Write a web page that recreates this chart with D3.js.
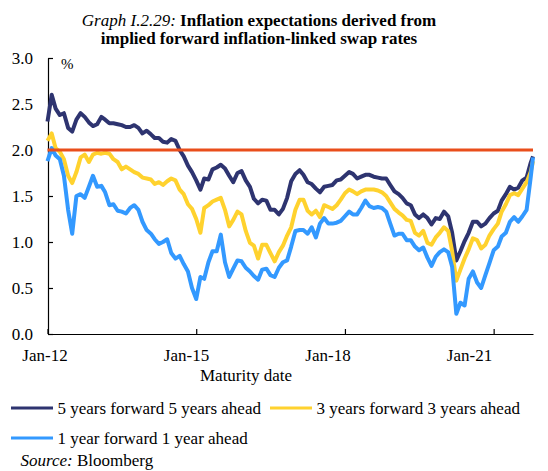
<!DOCTYPE html>
<html><head><meta charset="utf-8">
<script src="https://cdn.jsdelivr.net/npm/d3@7"></script>
<style>body{margin:0;background:#fff} svg{display:block}</style>
</head><body>
<svg id="chart" width="548" height="471"></svg>
<script>
// Monthly observation dates Jan-2012 .. Oct-2021 plus the last observation
const dates = d3.timeMonth.range(new Date(2012,0,1), new Date(2021,9,2)).concat([new Date(2021,9,18)]);

const fiveY = [
 2.31,2.60,2.45,2.38,2.40,2.24,2.20,2.33,2.40,2.36,2.30,2.26,
 2.28,2.36,2.33,2.29,2.29,2.28,2.27,2.25,2.25,2.27,2.24,2.18,
 2.21,2.17,2.13,2.13,2.09,2.08,2.12,2.10,2.00,1.93,1.83,1.76,
 1.67,1.57,1.69,1.68,1.79,1.81,1.84,1.80,1.72,1.65,1.75,1.77,
 1.67,1.60,1.47,1.42,1.46,1.45,1.35,1.35,1.30,1.36,1.48,1.66,
 1.74,1.78,1.73,1.65,1.63,1.58,1.54,1.60,1.61,1.62,1.67,1.68,
 1.72,1.76,1.74,1.69,1.71,1.73,1.73,1.71,1.70,1.69,1.69,1.62,
 1.55,1.52,1.48,1.42,1.40,1.30,1.26,1.30,1.26,1.19,1.26,1.25,
 1.33,1.28,1.10,0.80,0.90,1.01,1.10,1.22,1.22,1.17,1.20,1.26,
 1.31,1.34,1.45,1.52,1.60,1.57,1.59,1.67,1.70,1.86,
 1.93];
const threeY = [
 2.10,2.18,2.02,1.98,1.90,1.72,1.64,1.76,1.92,1.95,1.87,1.95,
 1.97,1.96,1.97,1.96,1.90,1.87,1.79,1.82,1.79,1.76,1.74,1.70,
 1.69,1.68,1.63,1.65,1.62,1.66,1.69,1.67,1.57,1.52,1.41,1.36,
 1.25,1.10,1.37,1.40,1.44,1.46,1.48,1.35,1.17,1.24,1.33,1.30,
 1.12,0.99,0.96,0.82,0.97,0.97,0.88,0.79,0.89,0.96,1.07,1.16,
 1.35,1.46,1.46,1.34,1.30,1.34,1.27,1.40,1.38,1.36,1.40,1.46,
 1.53,1.57,1.55,1.52,1.55,1.57,1.57,1.57,1.56,1.54,1.50,1.43,
 1.36,1.32,1.29,1.24,1.23,1.10,1.07,1.12,0.99,0.97,1.05,1.10,
 1.16,1.12,0.90,0.58,0.70,0.82,0.92,1.04,1.02,0.93,0.97,1.07,
 1.14,1.20,1.33,1.41,1.51,1.53,1.51,1.58,1.65,1.76,
 1.88];
const oneY = [
 1.88,2.02,1.94,1.90,1.72,1.35,1.09,1.50,1.52,1.48,1.60,1.72,
 1.60,1.61,1.54,1.40,1.41,1.34,1.33,1.31,1.37,1.40,1.35,1.22,
 1.13,1.09,1.03,0.98,1.00,1.03,0.88,0.82,0.85,0.76,0.68,0.50,
 0.38,0.62,0.60,0.78,0.90,0.90,1.08,0.78,0.62,0.71,0.80,0.79,
 0.72,0.68,0.63,0.59,0.70,0.71,0.64,0.62,0.72,0.78,0.80,0.95,
 1.12,1.13,1.13,1.09,1.16,1.05,1.20,1.26,1.20,1.20,1.21,1.23,
 1.28,1.33,1.30,1.30,1.37,1.45,1.39,1.37,1.38,1.37,1.33,1.20,
 1.07,1.09,1.09,1.02,1.02,0.95,0.91,0.94,0.83,0.74,0.84,0.89,
 0.92,0.89,0.73,0.22,0.34,0.31,0.60,0.68,0.56,0.50,0.64,0.77,
 0.91,0.95,1.06,1.10,1.22,1.27,1.22,1.28,1.35,1.70,
 1.92];
const targetValue = 2.0;

const yTicks = [0,0.5,1,1.5,2,2.5,3];
const xTickDates = [new Date(2012,0,1), new Date(2015,0,1), new Date(2018,0,1), new Date(2021,0,1)];
const xLabels = ["Jan-12","Jan-15","Jan-18","Jan-21"];
const seriesNames = ["5 years forward 5 years ahead","3 years forward 3 years ahead","1 year forward 1 year ahead"];
const colors = ["#2E3470","#FFD22E","#3399FF"];
const targetColor = "#E94E1B";

const svg = d3.select("#chart");
const font = "'Liberation Serif','Times New Roman',serif";

const x = d3.scaleTime().domain([dates[0], dates[dates.length-1]]).range([47.5, 533]);
const y = d3.scaleLinear().domain([0,3]).range([334, 58]);

// Title
const title = svg.append("text").attr("x",259).attr("y",26).attr("text-anchor","middle")
  .style("font-family",font).style("font-size","17px").attr("fill","#000");
title.append("tspan").attr("font-style","italic").text("Graph I.2.29:");
title.append("tspan").attr("font-weight","bold").text(" Inflation expectations derived from");
svg.append("text").attr("x",259).attr("y",44).attr("text-anchor","middle")
  .style("font-family",font).style("font-size","17px").attr("font-weight","bold").text("implied forward inflation-linked swap rates");

// Axes
const yAxis = d3.axisLeft(y).tickValues(yTicks).tickFormat(d3.format(".1f")).tickSizeInner(-5).tickSizeOuter(0).tickPadding(15);
const gy = svg.append("g").attr("transform","translate(48,0)").call(yAxis);
gy.attr("font-family",null);
gy.selectAll("text").style("font-family",font).style("font-size","17px").attr("fill","#000");
gy.selectAll("line,path").attr("stroke","#000").attr("stroke-width",1.2);

const xAxis = d3.axisBottom(x).tickValues(xTickDates).tickFormat("").tickSizeInner(-5).tickSizeOuter(0);
const gx = svg.append("g").attr("transform","translate(0,334)").call(xAxis);
gx.selectAll("line,path").attr("stroke","#000").attr("stroke-width",1.2);

const xl = d3.scalePoint().domain(xLabels).range([45, 469.5]);
svg.append("g").selectAll("text").data(xLabels).join("text")
  .attr("x",d=>xl(d)).attr("y",361).attr("text-anchor","middle")
  .style("font-family",font).style("font-size","17px").text(d=>d);

svg.append("text").attr("x",246).attr("y",381).attr("text-anchor","middle")
  .style("font-family",font).style("font-size","17px").text("Maturity date");

svg.append("text").attr("x",61).attr("y",69)
  .style("font-family",font).style("font-size","15px").text("%");

// Lines
const line = d3.line().x((d,i)=>x(dates[i])).y(d=>y(d));
[fiveY, threeY, oneY].forEach((s,k)=>{
  svg.append("path").datum(s).attr("d",line).attr("fill","none")
    .attr("stroke",colors[k]).attr("stroke-width",4).attr("stroke-linejoin","round");
});
svg.append("path").datum([dates[0], dates[dates.length-1]])
  .attr("d", d3.line().x(d=>x(d)).y(()=>y(targetValue)))
  .attr("stroke",targetColor).attr("stroke-width",2.8).attr("fill","none");

// Legend
const legendPos = [{x:11,y:408},{x:270,y:408},{x:11,y:438}];
seriesNames.forEach((n,k)=>{
  const p = legendPos[k];
  svg.append("line").attr("x1",p.x).attr("x2",p.x+42).attr("y1",p.y).attr("y2",p.y)
    .attr("stroke",colors[k]).attr("stroke-width",3.2);
  svg.append("text").attr("x",p.x+46.5).attr("y",p.y+6)
    .style("font-family",font).style("font-size","17px").text(n);
});

const src = svg.append("text").attr("x",20.5).attr("y",466).style("font-family",font).style("font-size","17px");
src.append("tspan").attr("font-style","italic").text("Source:");
src.append("tspan").text(" Bloomberg");
</script>
</body></html>
